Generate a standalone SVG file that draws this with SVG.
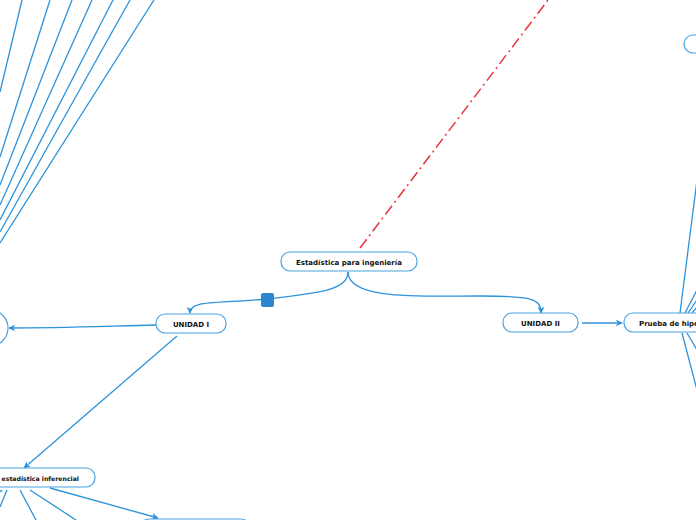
<svg xmlns="http://www.w3.org/2000/svg" width="696" height="520" viewBox="0 0 696 520">
<defs>
<style>
.n{fill:#fff;stroke:#4aa3e0;stroke-width:1.2}
.t{font-family:"DejaVu Sans",Verdana,sans-serif;font-weight:bold;font-size:7px;fill:#111}
.c{fill:none;stroke:#2b93dc;stroke-width:1.3}
.r{fill:none;stroke:#e8333b;stroke-width:1.5;stroke-dasharray:11 4 2 4}
</style>
<marker id="a" viewBox="0 0 10 10" refX="9" refY="5" markerWidth="7" markerHeight="7" orient="auto" markerUnits="userSpaceOnUse">
<path d="M0,0 L10,5 L0,10 L3,5 Z" fill="#2b93dc"/>
</marker>
</defs>
<rect width="696" height="520" fill="#fff"/>
<g id="connectors">
<path class="r" d="M360,248 L548,0"/>
<path class="c" d="M0,92 L22,0 M0,157 L50,0 M0,185 L72,0 M0,205 L92,0 M0,220 L113,0 M0,232 L130,0 M0,243 L154,0"/>
<path class="c" d="M348,272 C348,290 320,293 267,299 C215,304 190,300 190,313" marker-end="url(#a)"/>
<path class="c" d="M348,272 C348,300 420,296 480,296 C530,296 541,298 541,313" marker-end="url(#a)"/>
<path class="c" d="M582,323 L622,323" marker-end="url(#a)"/>
<path class="c" d="M156,325 C110,326 60,328 9,328" marker-end="url(#a)"/>
<path class="c" d="M177,336 L24,468" marker-end="url(#a)"/>
<path class="c" d="M7,490 L0,507 M2,490 L0,492 M20,490 L36,520 M30,490 L76,520"/>
<path class="c" d="M50,488 L158,518" marker-end="url(#a)"/>
<path class="c" d="M680,313 L697,180 M685,313 L697,290 M688,313 L697,300 M692,313 L697,307 M682,333 L697,390 M687,333 L697,350"/>
</g>
<g id="node-central">
<rect class="n" x="281" y="252" width="136" height="19" rx="9"/>
<text class="t" x="349" y="264.5" text-anchor="middle">Estadística para ingeniería</text>
</g>
<rect x="261" y="293" width="13" height="14" rx="2" fill="#2b88d0"/>
<g id="node-unidad1">
<rect class="n" x="156" y="314" width="70" height="19" rx="9"/>
<text class="t" x="191" y="326.5" text-anchor="middle">UNIDAD I</text>
</g>
<g id="node-unidad2">
<rect class="n" x="503" y="313" width="75" height="19" rx="9"/>
<text class="t" x="540.5" y="325.5" text-anchor="middle">UNIDAD II</text>
</g>
<g id="node-prueba">
<rect class="n" x="624" y="313" width="120" height="19" rx="9"/>
<text class="t" x="639" y="325.5">Prueba de hipótesis</text>
</g>
<g id="node-left">
<rect class="n" x="-60" y="310" width="68" height="36" rx="18"/>
</g>
<g id="node-inferencial">
<rect class="n" x="-80" y="468" width="175" height="19" rx="9"/>
<text class="t" x="79" y="480.5" text-anchor="end" style="font-size:6.2px">de estadística inferencial</text>
</g>
<g id="node-bottom">
<rect class="n" x="140" y="519" width="110" height="19" rx="9"/>
</g>
<g id="node-topright">
<rect class="n" x="684" y="35" width="60" height="18" rx="9"/>
</g>
</svg>
